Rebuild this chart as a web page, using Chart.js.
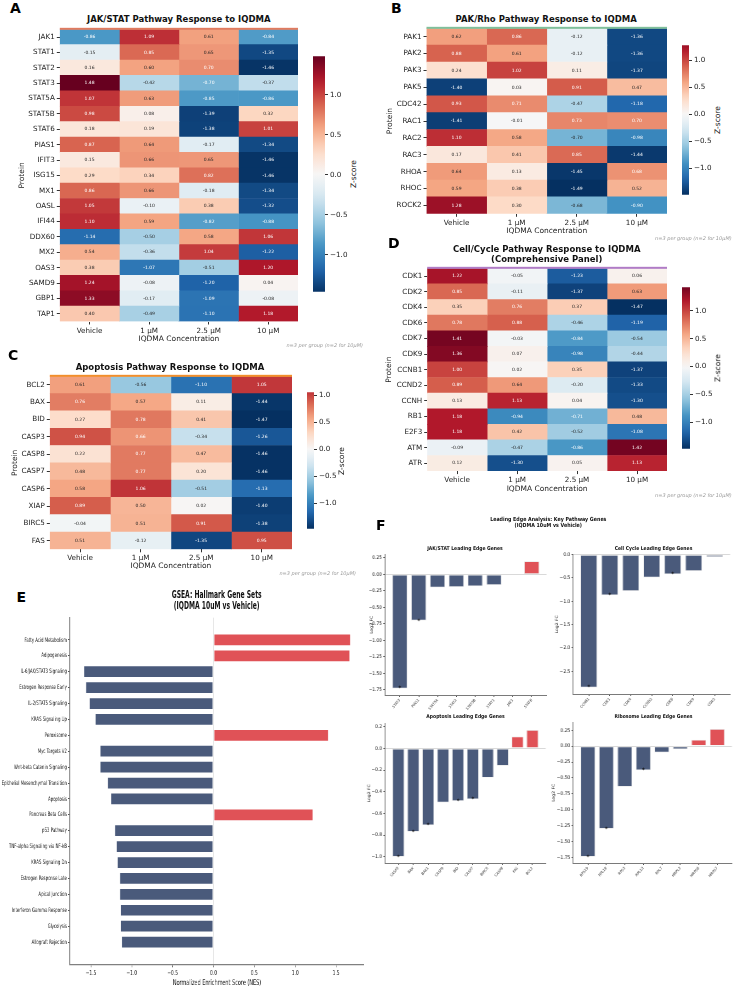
<!DOCTYPE html>
<html>
<head>
<meta charset="utf-8">
<script src="https://cdn.jsdelivr.net/npm/chart.js@4.4.1/dist/chart.umd.min.js"></script>
<style>
  body { margin: 0; background: #fff; }
  #page { position: relative; width: 735px; height: 990px; overflow: hidden; font-family: "DejaVu Sans", sans-serif; color: #111; }
  canvas { position: absolute; }
</style>
</head>
<body>
<div id="page"></div>
<script>
// ---------- data ----------
var concLabels = ['Vehicle', '1 \u03bcM', '2.5 \u03bcM', '10 \u03bcM'];

var jakRows = ['JAK1','STAT1','STAT2','STAT3','STAT5A','STAT5B','STAT6','PIAS1','IFIT3','ISG15','MX1','OASL','IFI44','DDX60','MX2','OAS3','SAMD9','GBP1','TAP1'];
var jakZ = [
  [-0.86, 1.09, 0.61, -0.84], [-0.15, 0.85, 0.65, -1.35], [0.16, 0.60, 0.70, -1.46],
  [1.48, -0.42, -0.70, -0.37], [1.07, 0.63, -0.85, -0.86], [0.98, 0.08, -1.39, 0.32],
  [0.18, 0.19, -1.38, 1.01], [0.87, 0.64, -0.17, -1.34], [0.15, 0.66, 0.65, -1.46],
  [0.29, 0.34, 0.82, -1.46], [0.86, 0.66, -0.18, -1.34], [1.05, -0.10, 0.38, -1.32],
  [1.10, 0.59, -0.82, -0.88], [-1.14, -0.50, 0.58, 1.06], [0.54, -0.36, 1.04, -1.22],
  [0.38, -1.07, -0.51, 1.20], [1.24, -0.08, -1.20, 0.04], [1.33, -0.17, -1.09, -0.08],
  [0.40, -0.49, -1.10, 1.18]
];

var pakRows = ['PAK1','PAK2','PAK3','PAK5','CDC42','RAC1','RAC2','RAC3','RHOA','RHOC','ROCK2'];
var pakZ = [
  [0.62, 0.86, -0.12, -1.36], [0.88, 0.61, -0.12, -1.36], [0.24, 1.02, 0.11, -1.37],
  [-1.40, 0.03, 0.91, 0.47], [0.93, 0.71, -0.47, -1.18], [-1.41, -0.01, 0.73, 0.70],
  [1.10, 0.58, -0.70, -0.98], [0.17, 0.41, 0.85, -1.44], [0.64, 0.13, -1.45, 0.68],
  [0.59, 0.38, -1.49, 0.52], [1.28, 0.30, -0.68, -0.90]
];

var apoRows = ['BCL2','BAX','BID','CASP3','CASP8','CASP7','CASP6','XIAP','BIRC5','FAS'];
var apoZ = [
  [0.61, -0.56, -1.10, 1.05], [0.76, 0.57, 0.11, -1.44], [0.27, 0.78, 0.41, -1.47],
  [0.94, 0.66, -0.34, -1.26], [0.22, 0.77, 0.47, -1.46], [0.48, 0.77, 0.20, -1.46],
  [0.58, 1.06, -0.51, -1.13], [0.89, 0.50, 0.02, -1.40], [-0.04, 0.51, 0.91, -1.38],
  [0.51, -0.12, -1.35, 0.95]
];

var ccRows = ['CDK1','CDK2','CDK4','CDK6','CDK7','CDK9','CCNB1','CCND2','CCNH','RB1','E2F3','ATM','ATR'];
var ccZ = [
  [1.22, -0.05, -1.23, 0.06], [0.85, -0.11, -1.37, 0.63], [0.35, 0.76, 0.37, -1.47],
  [0.78, 0.88, -0.46, -1.19], [1.41, -0.03, -0.84, -0.54], [1.36, 0.07, -0.98, -0.44],
  [1.00, 0.02, 0.35, -1.37], [0.89, 0.64, -0.20, -1.33], [0.13, 1.13, 0.04, -1.30],
  [1.18, -0.94, -0.71, 0.48], [1.18, 0.42, -0.52, -1.08], [-0.09, -0.47, -0.86, 1.42],
  [0.12, -1.30, 0.05, 1.13]
];
var cbarTicks = [-1, -0.5, 0, 0.5, 1];

var gseaSets = ['Fatty Acid Metabolism','Adipogenesis','IL-6/JAK/STAT3 Signaling','Estrogen Response Early',
  'IL-2/STAT5 Signaling','KRAS Signaling Up','Peroxisome','Myc Targets V2','Wnt-beta Catenin Signaling',
  'Epithelial Mesenchymal Transition','Apoptosis','Pancreas Beta Cells','p53 Pathway','TNF-alpha Signaling via NF-kB',
  'KRAS Signaling Dn','Estrogen Response Late','Apical Junction','Interferon Gamma Response','Glycolysis','Allograft Rejection'];
var gseaNES = [1.68, 1.67, -1.59, -1.565, -1.52, -1.45, 1.41, -1.39, -1.39, -1.30, -1.26, 1.22, -1.21, -1.19, -1.18, -1.15, -1.15, -1.14, -1.14, -1.125];
var nesTicks = [-1.5, -1.0, -0.5, 0, 0.5, 1.0, 1.5];

var jakGenes = ['STAT3','PIAS1','STAT5A','STAT2','STAT5B','STAT1','JAK1','STAT6'];
var jakFC = [-1.73, -0.70, -0.20, -0.19, -0.18, -0.16, -0.01, 0.20];
var jakSig = [1, 1, 0, 0, 0, 0, 0, 0];
var ccGenes = ['CCNB1','CDK1','CDK4','CCND2','CDK6','CDK9','CDK2'];
var ccFC = [-2.85, -0.87, -0.78, -0.49, -0.42, -0.35, -0.05];
var ccSig = [1, 1, 0, 0, 1, 0, 0];
var apoGenes = ['CASP3','BAX','BAK1','CASP9','BID','CASP7','BIRC5','CASP8','FAS','BCL2'];
var apoFC = [-1.00, -0.77, -0.71, -0.50, -0.485, -0.47, -0.27, -0.16, 0.11, 0.17];
var apoSig = [1, 1, 1, 0, 1, 1, 0, 0, 0, 0];
var riboGenes = ['RPS19','RPL18','RPS3','RPL13','RPL7','MRPL3','MRPS6','MRPS7'];
var riboFC = [-1.74, -1.30, -0.64, -0.38, -0.10, -0.05, 0.10, 0.27];
var riboSig = [1, 1, 0, 1, 0, 0, 0, 0];

// ---------- setup ----------
var UP = '#e05257', DOWN = '#4a5a7b';
var ES = 0.63, FS = 0.85;   // horizontal squeeze of panels E and F

Chart.defaults.font.family = '"DejaVu Sans", sans-serif';
Chart.defaults.color = '#222';
Chart.defaults.animation = false;
Chart.defaults.responsive = false;
Chart.defaults.plugins.legend.display = false;
Chart.defaults.plugins.tooltip.enabled = false;

var page = document.getElementById('page');

var RDBU_R = ['#053061','#2166ac','#4393c3','#92c5de','#d1e5f0','#f7f7f7','#fddbc7','#f4a582','#d6604d','#b2182b','#67001f']
  .map(function(h){ return [1,3,5].map(function(k){ return parseInt(h.substr(k,2),16); }); });

function cmap(t){
  t = Math.min(1, Math.max(0, t)) * 10;
  var i = Math.min(9, Math.floor(t)), f = t - i;
  return RDBU_R[i].map(function(c, k){ return c + (RDBU_R[i+1][k] - c) * f; });
}
function heatRGB(v, vr){ return cmap((v / vr + 1) / 2); }
function css(rgb){ return 'rgb(' + rgb.map(Math.round).join(',') + ')'; }
function annotColor(rgb){
  var lin = rgb.map(function(c){ c /= 255; return c <= 0.03928 ? c / 12.92 : Math.pow((c + 0.055) / 1.055, 2.4); });
  var lum = 0.2126*lin[0] + 0.7152*lin[1] + 0.0722*lin[2];
  return lum > 0.408 ? '#262626' : '#ffffff';
}
function mfmt(v, d){ return (v < -1e-9 ? '\u2212' : '') + Math.abs(v).toFixed(d); }
function absMax(z){ var m = 0; z.forEach(function(r){ r.forEach(function(v){ m = Math.max(m, Math.abs(v)); }); }); return m; }

function addCanvas(parent, left, top, w, h){
  var c = document.createElement('canvas');
  c.width = Math.round(w); c.height = Math.round(h);
  c.style.left = left + 'px'; c.style.top = top + 'px';
  c.style.width = Math.round(w) + 'px'; c.style.height = Math.round(h) + 'px';
  parent.appendChild(c);
  return c;
}
function addText(parent, html, x, y, style){
  var d = document.createElement('div');
  d.innerHTML = html;
  d.style.cssText = 'position:absolute;white-space:nowrap;left:' + x + 'px;top:' + y + 'px;' + style;
  parent.appendChild(d);
  return d;
}
function wrapper(left, sx){
  var d = document.createElement('div');
  d.style.cssText = 'position:absolute;top:0;left:' + left + 'px;width:' + ((735 - left) / sx) + 'px;height:990px;transform:scaleX(' + sx + ');transform-origin:0 0;';
  page.appendChild(d);
  return d;
}

var TITLE = 'transform:translate(-50%,-50%);text-align:center;font:bold 8.5px/10px "DejaVu Sans";';
var NOTE = 'transform:translate(-100%,-50%);font:italic 5px/1 "DejaVu Sans";color:#9a9a9a;';
var LETTER = 'font:bold 14px/1 "DejaVu Sans";color:#000;';
var ZLAB = 'transform:translate(-50%,-50%) rotate(-90deg);font:7.5px/1 "DejaVu Sans";';

// ---------- plugins ----------
var topLine = {
  id: 'topLine',
  afterDatasetsDraw: function(chart, args, opts){
    var a = chart.chartArea, ctx = chart.ctx;
    ctx.save(); ctx.fillStyle = opts.color;
    ctx.fillRect(a.left, a.top - 1.5, a.right - a.left, 2);
    ctx.restore();
  }
};
var cellText = {
  id: 'cellText',
  afterDatasetsDraw: function(chart, args, opts){
    var ctx = chart.ctx;
    ctx.save();
    ctx.font = '4.5px "DejaVu Sans"'; ctx.textAlign = 'center'; ctx.textBaseline = 'middle';
    chart.data.datasets.forEach(function(ds, j){
      chart.getDatasetMeta(j).data.forEach(function(el, i){
        var v = opts.z[i][j];
        ctx.fillStyle = annotColor(heatRGB(v, opts.vr));
        ctx.fillText(v.toFixed(2), (el.x + el.base) / 2, el.y);
      });
    });
    ctx.restore();
  }
};
var stars = {
  id: 'stars',
  afterDatasetsDraw: function(chart, args, opts){
    var ctx = chart.ctx;
    ctx.save();
    ctx.fillStyle = '#111'; ctx.font = 'bold 6px "DejaVu Sans"'; ctx.textAlign = 'center'; ctx.textBaseline = 'alphabetic';
    chart.getDatasetMeta(0).data.forEach(function(el, i){
      if (opts.sig[i]) ctx.fillText('*', el.x, el.y + 2);
    });
    ctx.restore();
  }
};
function zeroGrid(c){ return c.tick && Math.abs(c.tick.value) < 1e-9 ? '#d9d9d9' : 'rgba(0,0,0,0)'; }

// ---------- heatmap + colorbar ----------
function heatmap(rows, z, g){
  var vr = absMax(z), fs = 7.2, lh = 7.5 * 1.2;
  var left = g.ytx - lh / 2, top = g.T - 3, right = g.R + 3, bottom = g.xty + lh / 2;
  var cv = addCanvas(page, left, top, right - left, bottom - top);
  var datasets = concLabels.map(function(c, j){
    return {
      data: rows.map(function(){ return [j, j + 1]; }),
      backgroundColor: rows.map(function(r, i){ return css(heatRGB(z[i][j], vr)); }),
      borderWidth: 0, grouped: false, barPercentage: 1, categoryPercentage: 1
    };
  });
  new Chart(cv, {
    type: 'bar',
    data: { labels: rows, datasets: datasets },
    options: {
      indexAxis: 'y',
      layout: { padding: { top: 3, right: 3, left: 0, bottom: 0 } },
      plugins: { topLine: { color: g.line }, cellText: { z: z, vr: vr } },
      scales: {
        x: {
          type: 'linear', min: 0, max: 4,
          afterBuildTicks: function(s){ s.ticks = [0.5, 1.5, 2.5, 3.5].map(function(v){ return { value: v }; }); },
          afterFit: function(s){ s.height = bottom - g.B; },
          ticks: { callback: function(v, i){ return concLabels[i]; }, font: { size: fs }, padding: 2, maxRotation: 0, autoSkip: false },
          grid: { drawOnChartArea: false, tickLength: 3, tickColor: '#333' },
          border: { display: false },
          title: { display: true, text: 'IQDMA Concentration', font: { size: 7.5 }, padding: 0 }
        },
        y: {
          afterFit: function(s){ s.width = g.L - left; },
          ticks: { font: { size: fs }, padding: 2, autoSkip: false },
          grid: { offset: false, drawOnChartArea: false, tickLength: 3, tickColor: '#333' },
          border: { display: false },
          title: { display: true, text: 'Protein', font: { size: 7.5 }, padding: 0 }
        }
      }
    },
    plugins: [topLine, cellText]
  });
}

function colorbar(z, c){
  var vmin = Infinity, vmax = -Infinity;
  z.forEach(function(r){ r.forEach(function(v){ vmin = Math.min(vmin, v); vmax = Math.max(vmax, v); }); });
  var vr = Math.max(-vmin, vmax), axW = 24, pad = 5;
  var cv = addCanvas(page, c.x, c.T - pad, c.w + axW, c.B - c.T + 2 * pad);
  new Chart(cv, {
    type: 'bar',
    data: { labels: [''], datasets: [{
      data: [[vmin, vmax]], borderWidth: 0, barPercentage: 1, categoryPercentage: 1,
      backgroundColor: function(ctx){
        var a = ctx.chart.chartArea;
        if (!a) return '#ccc';
        var gr = ctx.chart.ctx.createLinearGradient(0, a.bottom, 0, a.top);
        for (var k = 0; k <= 24; k++){ var t = k / 24; gr.addColorStop(t, css(heatRGB(vmin + t * (vmax - vmin), vr))); }
        return gr;
      }
    }] },
    options: {
      layout: { padding: { top: pad, bottom: pad, left: 0, right: 0 } },
      scales: {
        x: { display: false },
        y: {
          position: 'right', min: vmin, max: vmax,
          afterBuildTicks: function(s){ s.ticks = cbarTicks.map(function(v){ return { value: v }; }); },
          afterFit: function(s){ s.width = axW; },
          ticks: { callback: function(v){ return mfmt(v, 1); }, font: { size: 7.2 }, padding: 2 },
          grid: { drawOnChartArea: false, tickLength: 3, tickColor: '#333' },
          border: { display: false }
        }
      }
    }
  });
  addText(page, 'Z-score', c.zx, (c.T + c.B) / 2, ZLAB);
}

// ---------- panel A ----------
addText(page, 'A', 10, 1.4, LETTER);
addText(page, 'JAK/STAT Pathway Response to IQDMA', 178.8, 19, TITLE);
heatmap(jakRows, jakZ, { L: 60, R: 297.7, T: 25.5, B: 321, ytx: 22.7, xty: 339, line: '#e07b5f' });
colorbar(jakZ, { x: 312.7, w: 11.5, T: 55, B: 292.5, zx: 354.3 });
addText(page, 'n=3 per group (n=2 for 10\u03bcM)', 363, 345, NOTE);

// ---------- panel B ----------
addText(page, 'B', 391, 1.4, LETTER);
addText(page, 'PAK/Rho Pathway Response to IQDMA', 546.2, 19, TITLE);
heatmap(pakRows, pakZ, { L: 426, R: 666.7, T: 25.4, B: 214, ytx: 390, xty: 231.7, line: '#7fbf9b' });
colorbar(pakZ, { x: 682.3, w: 7.2, T: 44.3, B: 196, zx: 718.3 });
addText(page, 'n=3 per group (n=2 for 10\u03bcM)', 731.7, 238.3, NOTE);

// ---------- panel C ----------
addText(page, 'C', 8, 348.4, LETTER);
addText(page, 'Apoptosis Pathway Response to IQDMA', 170, 366.7, TITLE);
heatmap(apoRows, apoZ, { L: 49.3, R: 291, T: 372.9, B: 548.8, ytx: 15, xty: 566, line: '#f28e2b' });
colorbar(apoZ, { x: 306.7, w: 6.8, T: 391, B: 530, zx: 342 });
addText(page, 'n=3 per group (n=2 for 10\u03bcM)', 356, 573.3, NOTE);

// ---------- panel D ----------
addText(page, 'D', 388, 235.7, LETTER);
addText(page, 'Cell/Cycle Pathway Response to IQDMA<br>(Comprehensive Panel)', 546.7, 254.3, TITLE);
heatmap(ccRows, ccZ, { L: 426.7, R: 666.7, T: 264.8, B: 470.6, ytx: 389, xty: 489, line: '#b07cc6' });
colorbar(ccZ, { x: 682.3, w: 7.7, T: 286, B: 450.4, zx: 718.3 });
addText(page, 'n=3 per group (n=2 for 10\u03bcM)', 731.7, 495, NOTE);

// ---------- panel E : GSEA ----------
addText(page, 'E', 16.5, 590, LETTER);
var ew = wrapper(0, ES);
addText(ew, 'GSEA: Hallmark Gene Sets<br>(IQDMA 10uM vs Vehicle)', 216.7 / ES, 601.4,
  'transform:translate(-50%,-50%);text-align:center;font:bold 9.6px/10.7px "DejaVu Sans";');
(function(){
  var top = 612, bottom = 988, width = 368 / ES;
  var cv = addCanvas(ew, 0, top, width, bottom - top);
  new Chart(cv, {
    type: 'bar',
    data: { datasets: [{
      data: gseaNES.map(function(v, i){ return { x: v, y: i }; }),
      backgroundColor: gseaNES.map(function(v){ return v > 0 ? UP : DOWN; }),
      borderColor: 'rgba(255,255,255,0.9)', borderWidth: 1, borderSkipped: false,
      barPercentage: 0.8, categoryPercentage: 1
    }] },
    options: {
      indexAxis: 'y',
      layout: { padding: { top: 3, right: width - 364 / ES, left: 0, bottom: 0 } },
      scales: {
        x: {
          type: 'linear', min: -1.755, max: 1.84,
          afterBuildTicks: function(s){ s.ticks = nesTicks.map(function(v){ return { value: v }; }); },
          afterFit: function(s){ s.height = bottom - 964.3; },
          ticks: { callback: function(v){ return mfmt(v, 1); }, font: { size: 6.8 }, padding: 2 },
          grid: { color: zeroGrid, tickColor: '#444', tickLength: 3 },
          border: { color: '#808080', width: 1.3 },
          title: { display: true, text: 'Normalized Enrichment Score (NES)', font: { size: 7.8 }, padding: 0 }
        },
        y: {
          type: 'linear', reverse: true, min: -1.4, max: 20.4, offset: false,
          afterBuildTicks: function(s){ s.ticks = gseaSets.map(function(n, i){ return { value: i }; }); },
          afterFit: function(s){ s.width = 70 / ES; },
          ticks: { callback: function(v){ return gseaSets[v]; }, font: { size: 6.1 }, padding: 2, autoSkip: false },
          grid: { offset: false, drawOnChartArea: false, tickColor: '#444', tickLength: 3 },
          border: { color: '#808080', width: 1.3 }
        }
      }
    }
  });
})();

// ---------- panel F : leading edge ----------
addText(page, 'F', 376, 518.4, LETTER);
var fw = wrapper(360, FS);
addText(fw, 'Leading Edge Analysis: Key Pathway Genes<br>(IQDMA 10uM vs Vehicle)', (548.3 - 360) / FS, 522.7,
  'transform:translate(-50%,-50%);text-align:center;font:bold 5.6px/6.7px "DejaVu Sans";');

function fcBars(genes, fc, sig, g){
  var n = genes.length, m = 0.05 * (n - 0.2), lh = 4.5 * 1.2;
  var leftS = g.lx - lh / 2 * FS;
  var left = (leftS - 360) / FS, width = (g.R + 3 - leftS) / FS;
  var top = g.T - 3, xH = 20;
  addText(fw, g.title, (g.tx - 360) / FS, g.ty, 'transform:translate(-50%,-50%);font:bold 5.3px/1 "DejaVu Sans";');
  var cv = addCanvas(fw, left, top, width, g.B + xH - top);
  new Chart(cv, {
    type: 'bar',
    data: { datasets: [{
      data: fc.map(function(v, i){ return { x: i, y: v }; }),
      backgroundColor: fc.map(function(v){ return v > 0 ? UP : DOWN; }),
      borderColor: '#e4e4e4', borderWidth: 0.7, borderSkipped: false,
      barPercentage: 0.8, categoryPercentage: 1
    }] },
    options: {
      layout: { padding: { top: 3, right: 3 / FS, left: 0, bottom: 0 } },
      plugins: { stars: { sig: sig } },
      scales: {
        x: {
          type: 'linear', min: -0.4 - m, max: n - 0.6 + m, offset: false,
          afterBuildTicks: function(s){ s.ticks = genes.map(function(n, i){ return { value: i }; }); },
          afterFit: function(s){ s.height = xH; },
          ticks: { callback: function(v){ return genes[v]; }, font: { size: 3.8 }, minRotation: 45, maxRotation: 45, autoSkip: false, padding: 1 },
          grid: { offset: false, drawOnChartArea: false, tickLength: 2, tickColor: '#555' },
          border: { color: '#7a7a7a', width: 1 }
        },
        y: {
          min: g.ymin, max: g.ymax,
          afterBuildTicks: function(s){ s.ticks = g.ticks.map(function(v){ return { value: v }; }); },
          afterFit: function(s){ s.width = (g.L - leftS) / FS; },
          ticks: { callback: function(v){ return mfmt(v, g.dec); }, font: { size: 5.2 }, padding: 1.5 },
          grid: { color: zeroGrid, tickColor: '#555', tickLength: 2 },
          border: { color: '#7a7a7a', width: 1 },
          title: { display: true, text: 'Log2 FC', font: { size: 4.5 }, padding: 0 }
        }
      }
    },
    plugins: [stars]
  });
}

fcBars(jakGenes, jakFC, jakSig, { L: 385, R: 546.3, T: 552.7, B: 694.8, lx: 371.7, ymin: -1.83, ymax: 0.30,
  ticks: [0.25, 0, -0.25, -0.5, -0.75, -1.0, -1.25, -1.5, -1.75], dec: 2, title: 'JAK/STAT Leading Edge Genes', tx: 465, ty: 549.3 });
fcBars(ccGenes, ccFC, ccSig, { L: 573, R: 730, T: 553.3, B: 694.7, lx: 556.7, ymin: -2.99, ymax: 0,
  ticks: [0, -0.5, -1.0, -1.5, -2.0, -2.5], dec: 1, title: 'Cell Cycle Leading Edge Genes', tx: 653.5, ty: 549.3 });
fcBars(apoGenes, apoFC, apoSig, { L: 385, R: 545.6, T: 721.7, B: 862.3, lx: 369, ymin: -1.0585, ymax: 0.2285,
  ticks: [0.2, 0, -0.2, -0.4, -0.6, -0.8, -1.0], dec: 1, title: 'Apoptosis Leading Edge Genes', tx: 465.5, ty: 716.7 });
fcBars(riboGenes, riboFC, riboSig, { L: 573, R: 731.6, T: 721.3, B: 862.8, lx: 553.3, ymin: -1.84, ymax: 0.37,
  ticks: [0.25, 0, -0.25, -0.5, -0.75, -1.0, -1.25, -1.5, -1.75], dec: 2, title: 'Ribosome Leading Edge Genes', tx: 653.5, ty: 716.7 });
</script>
</body>
</html>
